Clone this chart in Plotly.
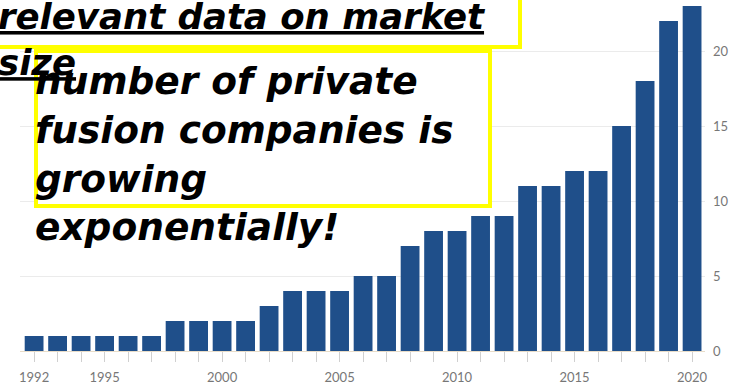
import plotly.graph_objects as go

years = list(range(1992, 2021))
companies = [1, 1, 1, 1, 1, 1, 2, 2, 2, 2, 3, 4, 4, 4, 5, 5, 7, 8, 8, 9, 9, 11, 11, 12, 12, 15, 18, 22, 23]
labelled_years = [1992, 1995, 2000, 2005, 2010, 2015, 2020]
y_ticks = [0, 5, 10, 15, 20]

title_text = "relevant data on market<br>size"
claim_text = "number of private<br>fusion companies is<br>growing<br>exponentially!"

W, H = 736, 384
ML, MR, MT, MB = 20, 31, 0, 33
PW, PH = W - ML - MR, H - MT - MB


def px(x):
    return (x - ML) / PW


def py(y):
    return (H - MB - y) / PH


def bi(t):
    return "<b><i>" + t.replace("<br>", "</i></b><br><b><i>") + "</i></b>"


fig = go.Figure(
    go.Bar(
        x=years,
        y=companies,
        marker=dict(color="#1f4f8a", line=dict(width=0)),
        width=0.8,
    )
)

fig.update_layout(
    width=W,
    height=H,
    margin=dict(l=ML, r=MR, t=MT, b=MB),
    paper_bgcolor="white",
    plot_bgcolor="white",
    showlegend=False,
    font=dict(family="Lato", color="#777777", size=13),
)

fig.update_xaxes(
    range=[1991.4, 2020.55],
    tickvals=years,
    ticktext=[str(y) if y in labelled_years else "" for y in years],
    ticks="outside",
    ticklen=10,
    tickcolor="#d0d0d0",
    tickwidth=1,
    showgrid=False,
    showline=True,
    linecolor="#e8dcc8",
    linewidth=1,
    zeroline=False,
    ticklabelstandoff=4,
)

fig.update_yaxes(
    side="right",
    range=[0, 23.4],
    tickvals=y_ticks,
    showgrid=True,
    gridcolor="#ebebeb",
    gridwidth=1,
    zeroline=False,
    showline=False,
    ticks="",
    ticklabelstandoff=7,
)

# boxes
fig.add_shape(type="rect", xref="paper", yref="paper",
              x0=px(-10), x1=px(520), y0=py(-10), y1=py(47),
              line=dict(color="#ffff00", width=4), fillcolor="white", layer="above")
fig.add_shape(type="rect", xref="paper", yref="paper",
              x0=px(36), x1=px(490), y0=py(206), y1=py(51),
              line=dict(color="#ffff00", width=4), fillcolor="white", layer="above")

fig.add_annotation(
    xref="paper", yref="paper", x=px(-3), y=py(-5),
    xanchor="left", yanchor="top", align="left", showarrow=False,
    text=bi(title_text), borderpad=0,
    font=dict(family="DejaVu Sans", size=35.5, color="black", weight="bold",
              style="italic", lineposition="under"),
)
fig.add_annotation(
    xref="paper", yref="paper", x=px(34), y=py(58),
    xanchor="left", yanchor="top", align="left", showarrow=False,
    text=bi(claim_text), borderpad=0,
    font=dict(family="DejaVu Sans", size=37.5, color="black", weight="bold",
              style="italic"),
)

fig.write_html("out.html")
